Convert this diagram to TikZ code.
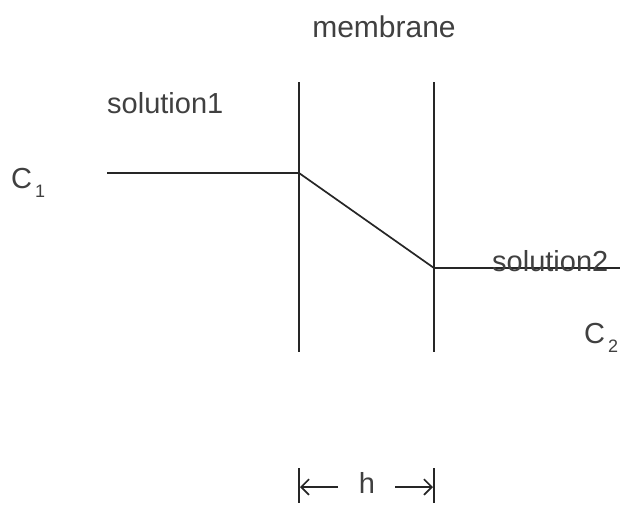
\documentclass[tikz,border=0pt]{standalone}
\usepackage{fontspec}
\setmainfont{Liberation Sans}
\usetikzlibrary{arrows.meta}
\newcommand{\lowsub}[1]{\hspace{3pt}\raisebox{-9pt}{\fontsize{18}{20}\selectfont #1}}
\begin{document}
\begin{tikzpicture}[x=1pt,y=-1pt,
  ln/.style={line width=1.7pt,draw=black!85},
  lbl/.style={inner sep=0pt,text=black!75,font=\fontsize{29}{32}\selectfont},
  dim/.style={line width=1.7pt,draw=black!85,-{Straight Barb[scale=1.6]}}]
\useasboundingbox (0,0) rectangle (620,506);
% membranes
\coordinate (m1t) at (299,82); \coordinate (m1b) at (299,352);
\coordinate (m2t) at (434,82); \coordinate (m2b) at (434,352);
\draw[ln] (m1t) -- (m1b);
\draw[ln] (m2t) -- (m2b);
% concentration profile
\coordinate (p0) at (107,173);
\coordinate (p1) at (299,173);
\coordinate (p2) at (434,268);
\coordinate (p3) at (620,268);
\draw[ln] (p0) -- (p1) -- (p2) -- (p3);
% labels
\node[lbl,anchor=base,font=\fontsize{30}{32}\selectfont] (mem) at (384,37) {membrane};
\node[lbl,anchor=base west] (s1) at (107,113) {solution1};
\node[lbl,anchor=base west] (c1) at (11,188) {C\lowsub{1}};
\node[lbl,anchor=base west] (s2) at (492,271) {solution2};
\node[lbl,anchor=base west] (c2) at (584,343) {C\lowsub{2}};
% h dimension
\coordinate (t1a) at (299,468); \coordinate (t1b) at (299,503);
\coordinate (t2a) at (434,468); \coordinate (t2b) at (434,503);
\draw[ln] (t1a) -- (t1b);
\draw[ln] (t2a) -- (t2b);
\node[lbl,anchor=base] (h) at (367,493) {h};
\coordinate (a1s) at (338,487); \coordinate (a1e) at (300,487);
\coordinate (a2s) at (395,487); \coordinate (a2e) at (433,487);
\draw[dim] (a1s) -- (a1e);
\draw[dim] (a2s) -- (a2e);
\end{tikzpicture}
\end{document}
